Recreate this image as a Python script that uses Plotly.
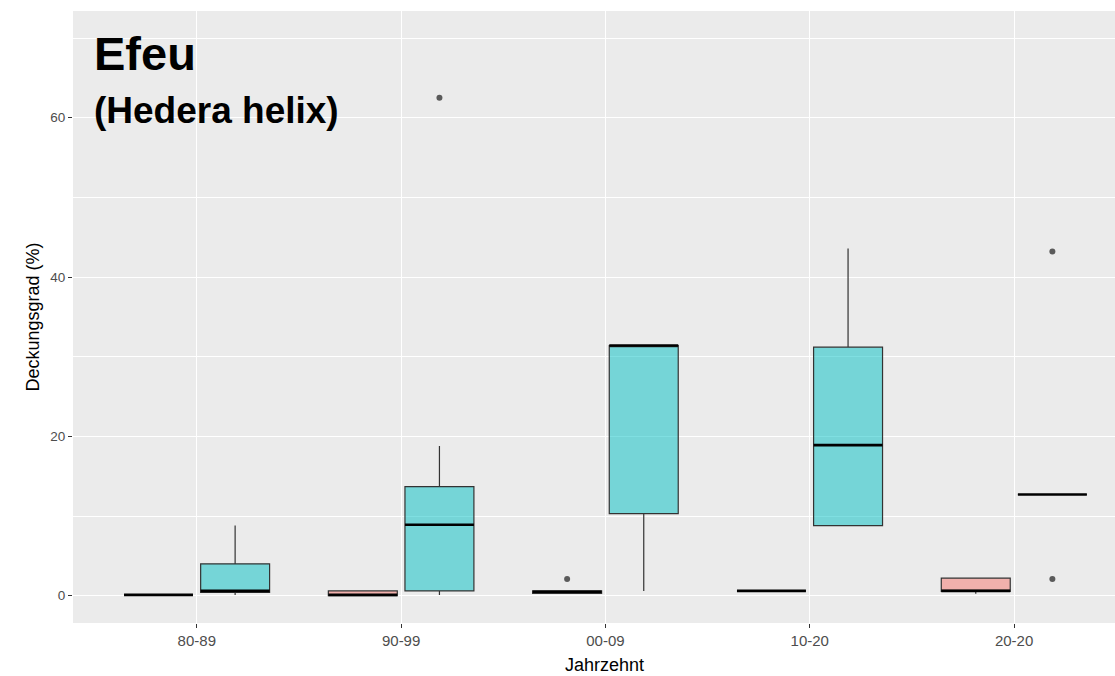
import plotly.graph_objects as go

categories = ["80-89", "90-99", "00-09", "10-20", "20-20"]

# group 1 (red/pink)
a_low = [0.1, 0.0, 0.2, 0.6, 0.25]
a_q1 = [0.1, 0.0, 0.3, 0.6, 0.55]
a_med = [0.1, 0.1, 0.5, 0.6, 0.6]
a_q3 = [0.1, 0.6, 0.6, 0.6, 2.2]
a_up = [0.1, 0.6, 0.6, 0.6, 2.2]
a_out_cat = ["00-09"]
a_out_val = [2.1]

# group 2 (cyan)
b_low = [0.1, 0.1, 0.6, 8.8, 12.7]
b_q1 = [0.4, 0.6, 10.3, 8.8, 12.7]
b_med = [0.6, 8.9, 31.4, 18.9, 12.7]
b_q3 = [4.0, 13.7, 31.4, 31.2, 12.7]
b_up = [8.8, 18.8, 31.4, 43.6, 12.7]
b_out_cat = ["90-99", "20-20", "20-20"]
b_out_val = [62.5, 43.2, 2.1]

DODGE = 0.1875
BOXW = 0.3375
idx = {c: i for i, c in enumerate(categories)}

fig = go.Figure()

groups = [
    (a_low, a_q1, a_med, a_q3, a_up, a_out_cat, a_out_val, -DODGE, "rgba(248,118,109,0.5)"),
    (b_low, b_q1, b_med, b_q3, b_up, b_out_cat, b_out_val, DODGE, "rgba(0,191,196,0.5)"),
]

for low, q1, med, q3, up, oc, ov, off, fill in groups:
    xs = [i + off for i in range(len(categories))]
    fig.add_trace(go.Box(
        x=xs, lowerfence=low, q1=q1, median=med, q3=q3, upperfence=up,
        width=BOXW, fillcolor=fill, line=dict(color="#333333", width=1.2),
        whiskerwidth=0, boxpoints=False, showlegend=False, hoverinfo="skip",
    ))
    # thick median segments
    mx, my = [], []
    for x, m in zip(xs, med):
        mx += [x - BOXW / 2, x + BOXW / 2, None]
        my += [m, m, None]
    fig.add_trace(go.Scatter(x=mx, y=my, mode="lines",
                             line=dict(color="#000000", width=2.6),
                             showlegend=False, hoverinfo="skip"))
    fig.add_trace(go.Scatter(x=[idx[c] + off for c in oc], y=ov, mode="markers",
                             marker=dict(color="#5a5a5a", size=6,
                                         line=dict(width=0)),
                             showlegend=False, hoverinfo="skip"))

fig.update_layout(
    width=1115, height=676,
    margin=dict(l=73, r=0, t=11, b=53),
    paper_bgcolor="white", plot_bgcolor="#EBEBEB",
    boxmode="overlay",
    font=dict(family="Liberation Sans, Arial, sans-serif"),
    xaxis=dict(
        range=[-0.606, 4.494], tickmode="array",
        tickvals=list(range(len(categories))), ticktext=categories,
        showgrid=True, gridcolor="white", gridwidth=1.1, zeroline=False,
        ticks="outside", ticklen=4, tickcolor="#333333", tickwidth=1,
        tickfont=dict(size=15, color="#4D4D4D"),
    ),
    yaxis=dict(
        range=[-3.43, 73.4], tickvals=[0, 20, 40, 60],
        showgrid=True, gridcolor="white", gridwidth=1.1, zeroline=False,
        minor=dict(dtick=10, tick0=0, showgrid=True, gridcolor="white", gridwidth=0.5),
        ticks="outside", ticklen=4, tickcolor="#333333", tickwidth=1,
        tickfont=dict(size=13.5, color="#4D4D4D"),
        title=dict(text="Deckungsgrad (%)", font=dict(size=18, color="black"), standoff=5),
    ),
    annotations=[
        dict(text="<b>Efeu</b>", xref="paper", yref="paper", x=0.0185, y=0.93,
             xanchor="left", yanchor="middle", showarrow=False,
             font=dict(size=47, color="black")),
        dict(text="<b>(Hedera helix)</b>", xref="paper", yref="paper", x=0.0185, y=0.837,
             xanchor="left", yanchor="middle", showarrow=False,
             font=dict(size=37, color="black")),
        dict(text="Jahrzehnt", xref="paper", yref="paper", x=0.5096, y=-0.068,
             xanchor="center", yanchor="middle", showarrow=False,
             font=dict(size=18, color="black")),
    ],
)

fig.write_html("out.html")
